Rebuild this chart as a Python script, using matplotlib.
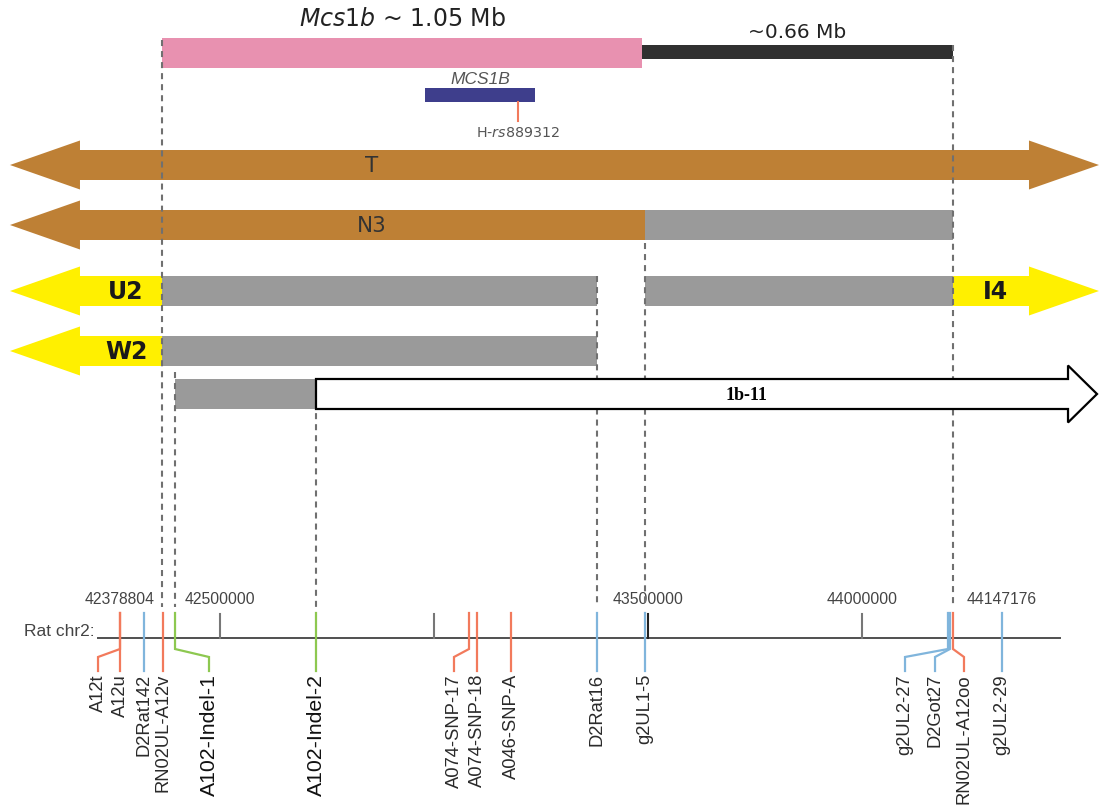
import matplotlib
matplotlib.use("Agg")
import matplotlib.pyplot as plt
from matplotlib.patches import Polygon, Rectangle

plt.rcParams['mathtext.fontset'] = 'custom'
plt.rcParams['mathtext.rm'] = 'DejaVu Sans'
plt.rcParams['mathtext.it'] = 'DejaVu Sans:italic'

# ---------------- data (positions in Mb on rat chr2) ----------------
marker_names = ["A12t", "A12u", "D2Rat142", "RN02UL-A12v", "A102-Indel-1",
                "A102-Indel-2", "A074-SNP-17", "A074-SNP-18", "A046-SNP-A",
                "D2Rat16", "g2UL1-5", "g2UL2-27", "D2Got27", "RN02UL-A12oo",
                "g2UL2-29"]
marker_pos = [42.2664, 42.2664, 42.3224, 42.3668, 42.3949,
              42.7243, 43.0818, 43.1005, 43.1799,
              43.3808, 43.4930, 44.2009, 44.2056, 44.2126,
              44.3271]
marker_label_pos = [42.2150, 42.2664, 42.3224, 42.3668, 42.4743,
                    42.7243, 43.0467, 43.1005, 43.1799,
                    43.3808, 43.4930, 44.1005, 44.1706, 44.2383,
                    44.3271]
marker_kind = ["red", "red", "blue", "red", "green",
               "green", "red", "red", "red",
               "blue", "blue", "blue", "blue", "red",
               "blue"]

chrom_span = [42.2150, 44.4626]
tick_pos = [42.5, 43.0, 43.5, 44.0]
tick_labels = ["42500000", "", "43500000", "44000000"]
end_label_pos = [42.2664, 44.3271]
end_labels = ["42378804", "44147176"]

mcs1b_span = [42.3645, 43.4860]
extra_span = [43.4860, 44.2126]
gene_span = [42.979, 43.236]
snp_pos = 43.1963

strain_names = ["T", "N3", "U2", "W2", "1b-11"]
strain_segments = [
    [(42.0093, 44.5537, "brown_both")],
    [(42.0093, 43.4930, "brown_left"), (43.4930, 44.2126, "grey")],
    [(42.0093, 42.3645, "yellow_left"), (42.3645, 43.3808, "grey"),
     (43.4930, 44.2126, "grey"), (44.2126, 44.5537, "yellow_right")],
    [(42.0093, 42.3645, "yellow_left"), (42.3645, 43.3808, "grey")],
    [(42.3949, 42.7243, "grey"), (42.7243, 44.5491, "white_right")],
]
strain_label_x = [42.855, 42.855, 42.2804, 42.2804, 43.729]
extra_label = ("I4", 44.3107)

boundary_pos = [42.3645, 42.3949, 42.7243, 43.3808, 43.4930, 44.2126]

# ---------------- layout / style ----------------
PX = 0.00233645            # Mb per pixel
X0 = 42.5 - 220 * PX
X1 = 42.5 + 879 * PX
row_y = [165, 225, 291, 351, 394]
boundary_top = [40, 372, 380, 276, 243, 45]
dash_bottom = 607

colors = {"red": "#F27A5C", "blue": "#80B5DC", "green": "#8DC850"}
fill = {"brown": "#BE8035", "grey": "#9A9A9A", "yellow": "#FFF000", "white": "white"}

fig = plt.figure(figsize=(10.99, 8.07), dpi=100)
ax = fig.add_axes([0, 0, 1, 1])
ax.set_xlim(X0, X1)
ax.set_ylim(807, 0)
ax.axis("off")

SANS = "Liberation Sans"


def arrow_poly(x0, x1, yc, sh, hh, hl, left, right):
    pts = []
    if left:
        pts += [(x0, yc), (x0 + hl, yc - hh), (x0 + hl, yc - sh)]
    else:
        pts += [(x0, yc - sh)]
    if right:
        pts += [(x1 - hl, yc - sh), (x1 - hl, yc - hh), (x1, yc),
                (x1 - hl, yc + hh), (x1 - hl, yc + sh)]
    else:
        pts += [(x1, yc - sh), (x1, yc + sh)]
    if left:
        pts += [(x0 + hl, yc + sh), (x0 + hl, yc + hh)]
    else:
        pts += [(x0, yc + sh)]
    return pts


# top bars
ax.add_patch(Rectangle((mcs1b_span[0], 38), mcs1b_span[1] - mcs1b_span[0], 30,
                       facecolor="#E891B0", edgecolor="none", zorder=2))
ax.add_patch(Rectangle((extra_span[0], 45), extra_span[1] - extra_span[0], 14,
                       facecolor="#303030", edgecolor="none", zorder=2))
ax.text(sum(mcs1b_span) / 2, 19, r"$\mathit{Mcs1b}$ ~ 1.05 Mb", ha="center",
        va="center", fontsize=17, color="#222222", family="DejaVu Sans")
ax.text(sum(extra_span) / 2, 32, "~0.66 Mb", ha="center", va="center",
        fontsize=14.5, color="#222222", family="DejaVu Sans")
ax.add_patch(Rectangle((gene_span[0], 88), gene_span[1] - gene_span[0], 14,
                       facecolor="#3E3E8C", edgecolor="none", zorder=2))
ax.text(sum(gene_span) / 2, 80, "MCS1B", ha="center", va="center",
        fontsize=12.5, color="#555555", family=SANS, style="italic")
ax.plot([snp_pos, snp_pos], [102, 121], color=colors["red"], lw=1.5, zorder=2)
ax.text(snp_pos, 133, r"H-$\mathit{rs889312}$", ha="center", va="center",
        fontsize=10.3, color="#555555", family="DejaVu Sans")

# strain rows
for name, segs, yc, lx in zip(strain_names, strain_segments, row_y, strain_label_x):
    for (s, e, kind) in segs:
        base = kind.split("_")[0]
        if kind == "grey":
            pts = arrow_poly(s, e, yc, 15, 15, 0, False, False)
            ax.add_patch(Polygon(pts, closed=True, facecolor=fill["grey"],
                                 edgecolor="none", zorder=3))
        elif base == "white":
            pts = arrow_poly(s, e, yc, 15, 28.5, 29 * PX, False, True)
            ax.add_patch(Polygon(pts, closed=True, facecolor="white",
                                 edgecolor="black", lw=1.6, zorder=6,
                                 joinstyle="miter"))
        else:
            left = kind.endswith("left") or kind.endswith("both")
            right = kind.endswith("right") or kind.endswith("both")
            pts = arrow_poly(s, e, yc, 15, 24.5, 70 * PX, left, right)
            ax.add_patch(Polygon(pts, closed=True, facecolor=fill[base],
                                 edgecolor="none", zorder=3))
    if name in ("U2", "W2"):
        ax.text(lx, yc + 1, name, ha="center", va="center", fontsize=17,
                fontweight="bold", color="#1a1a1a", family="DejaVu Sans", zorder=7)
    elif name == "1b-11":
        ax.text(lx, yc + 2, name, ha="center", va="center", fontsize=13,
                fontweight="bold", color="black", family="Liberation Serif", zorder=7)
    else:
        ax.text(lx, yc + 1, name, ha="center", va="center", fontsize=15.5,
                color="#333333", family="DejaVu Sans", zorder=7)
ax.text(extra_label[1], row_y[2] + 1, extra_label[0], ha="center", va="center",
        fontsize=17, fontweight="bold", color="#1a1a1a", family="DejaVu Sans", zorder=7)

# dashed boundaries
for bx, top in zip(boundary_pos, boundary_top):
    ax.plot([bx, bx], [top, dash_bottom], color="#707070", lw=1.5,
            linestyle=(0, (2.9, 2.4)), zorder=5)

# chromosome
ax.plot(chrom_span, [638, 638], color="#505050", lw=1.4, zorder=2)
ax.text(chrom_span[0] - 3 * PX, 632, "Rat chr2:", ha="right", va="center",
        fontsize=12.5, color="#444444", family=SANS)
for tp, tl in zip(tick_pos, tick_labels):
    ax.plot([tp, tp], [614, 638], color="#222222" if tp == 43.5 else "#777777",
            lw=1.5, zorder=3)
    if tl:
        ax.text(tp, 600, tl, ha="center", va="center", fontsize=11.3,
                color="#444444", family=SANS)
for ep, el in zip(end_label_pos, end_labels):
    ax.text(ep, 600, el, ha="center", va="center", fontsize=11.3,
            color="#444444", family=SANS)

# markers
for name, p, lp, kind in zip(marker_names, marker_pos, marker_label_pos, marker_kind):
    c = colors[kind]
    ax.plot([p, p, lp, lp], [613, 649, 657, 671], color=c, lw=1.6,
            solid_joinstyle="miter", zorder=4)
    big = kind == "green"
    ax.text(lp, 674, name, rotation=90, ha="center", va="top",
            fontsize=15.3 if big else 13.2, color="#111111" if big else "#2a2a2a",
            family=SANS)

fig.savefig("out.png", dpi=100)
